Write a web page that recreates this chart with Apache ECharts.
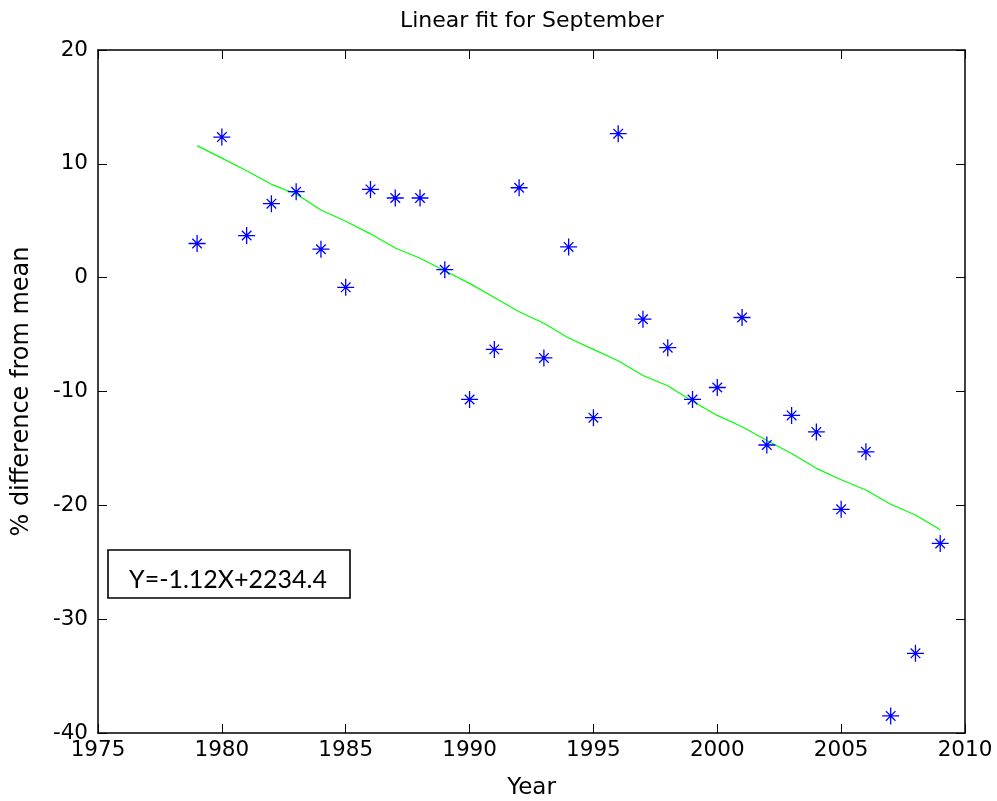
<!DOCTYPE html>
<html><head><meta charset="utf-8">
<script src="https://cdn.jsdelivr.net/npm/echarts@6/dist/echarts.min.js"></script>
<style>html,body{margin:0;padding:0;background:#fff}#c{width:997px;height:801px}</style>
</head><body><div id="c"></div>
<script>
const years = [1979,1980,1981,1982,1983,1984,1985,1986,1987,1988,1989,1990,1991,1992,1993,1994,1995,1996,1997,1998,1999,2000,2001,2002,2003,2004,2005,2006,2007,2008,2009];
const pctDiff = [3.0,12.35,3.7,6.5,7.55,2.5,-0.85,7.75,7.0,7.0,0.7,-10.7,-6.3,7.9,-7.05,2.7,-12.3,12.65,-3.65,-6.15,-10.7,-9.65,-3.5,-14.7,-12.1,-13.55,-20.35,-15.3,-38.5,-33.0,-23.35];
const fitLine = [11.6,10.5,9.4,8.2,7.35,5.95,4.95,3.85,2.6,1.7,0.6,-0.5,-1.75,-3.0,-4.0,-5.3,-6.3,-7.3,-8.6,-9.5,-10.85,-12.1,-13.1,-14.3,-15.45,-16.75,-17.75,-18.65,-19.9,-20.85,-22.15];
const xTicks = [1975,1980,1985,1990,1995,2000,2005,2010];
const yTicks = [-40,-30,-20,-10,0,10,20];
const titleText = 'Linear fit for September';
const xName = 'Year';
const yName = '% difference from mean';
const eqText = 'Y=-1.12X+2234.4';

const chart = echarts.init(document.getElementById('c'), null, {renderer:'canvas'});
const F = 'DejaVu Sans';
const axCommon = {
  axisLine:{show:true,onZero:false,lineStyle:{color:'#000',width:1.5}},
  axisTick:{show:true,inside:true,length:9,lineStyle:{color:'#000',width:1}},
  splitLine:{show:false}
};
const star = 'path://M0,-8L0,8M-8,0L8,0M-4.5,-4.5L4.5,4.5M-4.5,4.5L4.5,-4.5';
chart.setOption({
  animation:false,
  backgroundColor:'#fff',
  title:{text:titleText,left:395,top:5,textStyle:{fontFamily:F,fontWeight:'normal',fontSize:22,color:'#000'}},
  grid:{left:98,right:32,top:50,bottom:68,containLabel:false,outerBoundsMode:'none'},
  xAxis:[
    Object.assign({type:'value',min:xTicks[0],max:xTicks[xTicks.length-1],interval:5,position:'bottom',
      name:xName,nameLocation:'middle',nameGap:44,nameTextStyle:{fontFamily:F,fontSize:23,color:'#000'},
      axisLabel:{fontFamily:F,fontSize:21.5,color:'#000',margin:6,formatter:v=>String(v)}},axCommon),
    Object.assign({type:'value',min:xTicks[0],max:xTicks[xTicks.length-1],interval:5,position:'top',
      axisLabel:{show:false}},axCommon)
  ],
  yAxis:[
    Object.assign({type:'value',min:yTicks[0],max:yTicks[yTicks.length-1],interval:10,position:'left',
      name:yName,nameLocation:'middle',nameGap:64,nameRotate:90,nameTextStyle:{fontFamily:F,fontSize:24,color:'#000'},
      axisLabel:{fontFamily:F,fontSize:21.5,color:'#000',margin:10,formatter:v=>String(v)}},axCommon),
    Object.assign({type:'value',min:yTicks[0],max:yTicks[yTicks.length-1],interval:10,position:'right',
      axisLabel:{show:false}},axCommon)
  ],
  series:[
    {type:'line',data:years.map((y,i)=>[y,fitLine[i]]),showSymbol:false,symbol:'none',
      lineStyle:{color:'#00ff00',width:1.2},z:2},
    {type:'scatter',data:years.map((y,i)=>[y,pctDiff[i]]),symbol:star,symbolSize:17,
      itemStyle:{color:'rgba(0,0,0,0)',borderColor:'#0000ff',borderWidth:1.3,opacity:1},z:3}
  ],
  graphic:[
    {type:'rect',shape:{x:108,y:550,width:242,height:48},style:{fill:'#fff',stroke:'#000',lineWidth:1.6},z:10},
    {type:'text',x:228,y:580,style:{text:eqText,fontFamily:'Lato',fontSize:25,fill:'#000',textAlign:'center',textVerticalAlign:'middle'},z:11}
  ]
});
</script></body></html>
